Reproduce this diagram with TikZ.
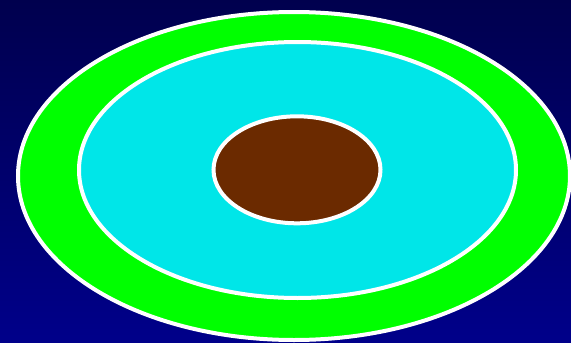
\documentclass[tikz,border=0pt]{standalone}
\begin{document}
\begin{tikzpicture}[x=1pt,y=-1pt,
  ring/.style={draw=white,line width=4pt}]
\definecolor{bgtop}{RGB}{0,0,78}
\definecolor{bgbot}{RGB}{0,0,138}
\definecolor{ringgreen}{RGB}{0,255,0}
\definecolor{ringcyan}{RGB}{0,230,232}
\definecolor{corebrown}{RGB}{107,42,0}
\useasboundingbox (0,0) rectangle (571,343);
\shade[top color=bgtop,bottom color=bgbot] (0,0) rectangle (571,343);
\begin{scope}
\clip (0,0) rectangle (571,343);
\path[ring,fill=ringgreen] (294,176) ellipse [x radius=276,y radius=164];
\path[ring,fill=ringcyan] (297.5,170) ellipse [x radius=218.5,y radius=128];
\path[ring,fill=corebrown] (297,169.8) ellipse [x radius=83.5,y radius=53.5];
\end{scope}
\end{tikzpicture}
\end{document}
